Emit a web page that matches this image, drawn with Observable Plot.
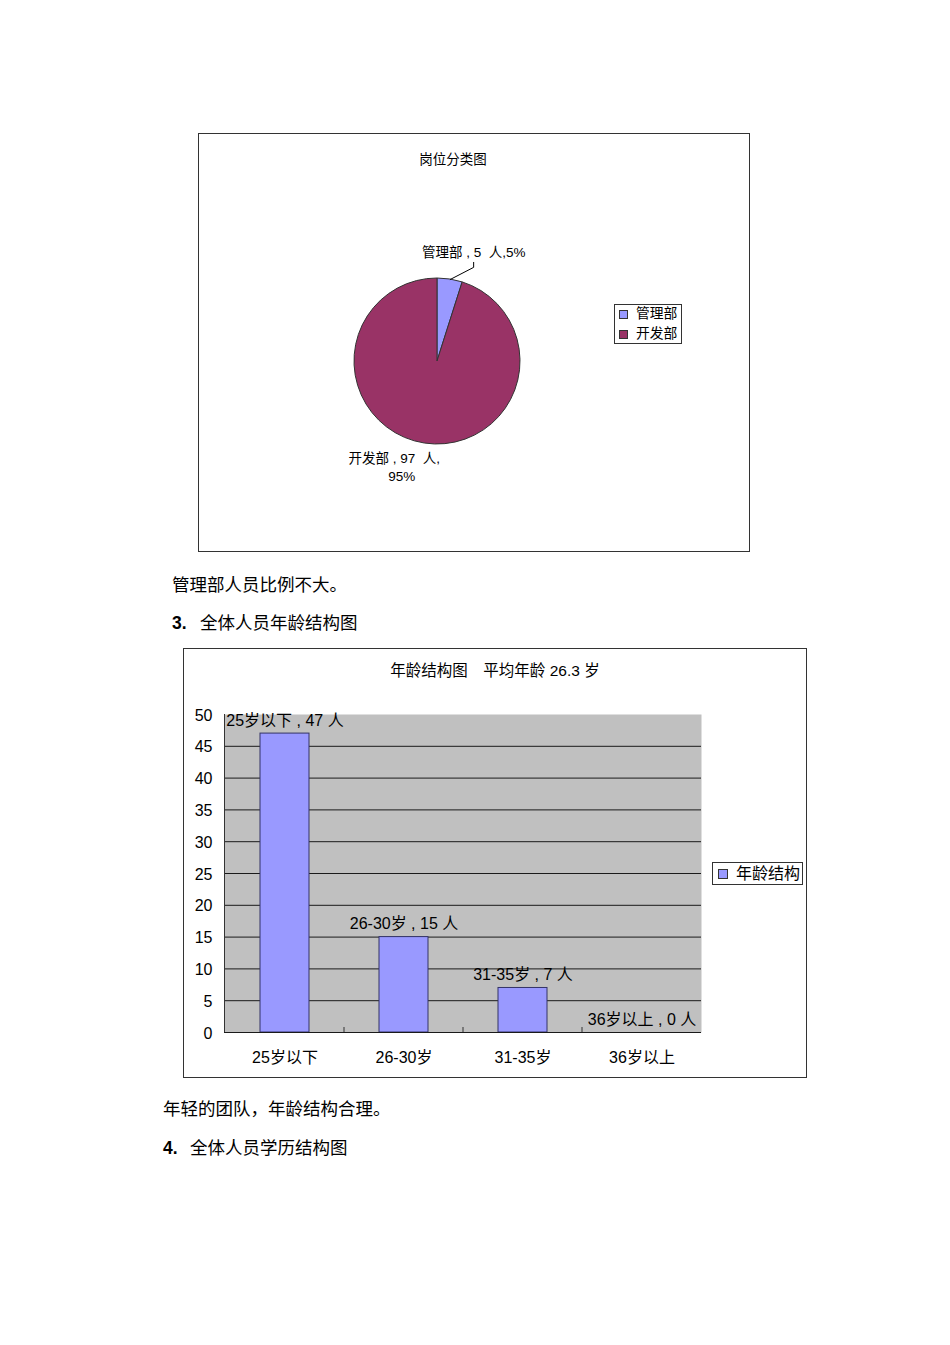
<!DOCTYPE html>
<html>
<head>
<meta charset="utf-8">
<script src="https://cdn.jsdelivr.net/npm/d3@7"></script>
<script src="https://cdn.jsdelivr.net/npm/@observablehq/plot@0.6"></script>
<style>
  html, body { margin: 0; padding: 0; background: #fff; }
  #page { position: relative; width: 950px; height: 1345px; background: #fff; overflow: hidden;
          font-family: "Liberation Sans", "Noto Sans CJK SC", sans-serif; color: #000; }
  .abs { position: absolute; white-space: nowrap; }
  .frame { position: absolute; box-sizing: border-box; border: 1px solid #333; background: #fff; }
  .frame svg { position: absolute; left: 0; top: 0; overflow: visible; }
  .para { font-size: 17.5px; line-height: 20px; }
  .sw { position: absolute; box-sizing: border-box; border: 1px solid #333; }
</style>
</head>
<body>
<div id="page">
  <div class="abs para" style="left:172px; top:575px;">管理部人员比例不大。</div>
  <div class="abs para" style="left:172px; top:613px; font-weight:bold;">3.</div>
  <div class="abs para" style="left:200px; top:613px;">全体人员年龄结构图</div>
  <div class="abs para" style="left:163px; top:1099px;">年轻的团队，年龄结构合理。</div>
  <div class="abs para" style="left:163px; top:1138px; font-weight:bold;">4.</div>
  <div class="abs para" style="left:190px; top:1138px;">全体人员学历结构图</div>
</div>
<script>
// ---------- data ----------
const deptNames = ["管理部", "开发部"];
const deptCounts = [5, 97];
const deptColors = ["#9999FF", "#993366"];
const pieTitle = "岗位分类图";

const ageGroups = ["25岁以下", "26-30岁", "31-35岁", "36岁以上"];
const ageCounts = [47, 15, 7, 0];
const yTicks = [0, 5, 10, 15, 20, 25, 30, 35, 40, 45, 50];
const barTitle = "年龄结构图\u3000平均年龄 26.3 岁";
const barSeriesName = "年龄结构";
const barColor = "#9999FF";

const FONT = '"Liberation Sans", "Noto Sans CJK SC", sans-serif';
const page = document.getElementById("page");

// ---------- pie chart ----------
const total = d3.sum(deptCounts);
const dept = deptNames.map((name, i) => ({
  name, count: deptCounts[i], color: deptColors[i],
  pct: Math.round(deptCounts[i] / total * 100)
}));
const arcs = d3.pie().sort(null).value(d => d.count)(dept);

// label layout (radius in pie-radius units, horizontal offset)
const labelLayout = [{r: 1.34, ox: 0.23}, {r: 1.28, ox: -0.28}];
const pieLabels = arcs.map((a, i) => {
  const m = (a.startAngle + a.endAngle) / 2;
  const d = a.data;
  const text = i === 0
    ? `${d.name} , ${d.count}\u00a0 人,${d.pct}%`
    : `${d.name} , ${d.count}\u00a0 人,\u00a0\u00a0\n\u00a0\u00a0${d.pct}%`;
  return {
    x: labelLayout[i].r * Math.sin(m) + labelLayout[i].ox,
    y: labelLayout[i].r * Math.cos(m),
    text, mid: m
  };
});
const m0 = pieLabels[0];
const leader = [
  {x: Math.sin(m0.mid), y: Math.cos(m0.mid)},
  {x: m0.x, y: m0.y - 0.19},
  {x: m0.x, y: m0.y - 0.13}
];

const pieW = 550, pieH = 417, pcx = 238, pcy = 227, pr = 83;
const pieFrame = document.createElement("div");
pieFrame.className = "frame";
Object.assign(pieFrame.style, {left: "198px", top: "133px", width: (pieW + 2) + "px", height: (pieH + 2) + "px"});
page.appendChild(pieFrame);

const pie = Plot.plot({
  width: pieW, height: pieH,
  margin: 0,
  style: {fontFamily: FONT, background: "transparent", color: "#000"},
  x: {domain: [-pcx / pr, (pieW - pcx) / pr], axis: null},
  y: {domain: [-(pieH - pcy) / pr, pcy / pr], axis: null},
  marks: [
    (index, scales) => {
      const cx = scales.x(0), cy = scales.y(0), r = scales.x(1) - scales.x(0);
      const arc = d3.arc().innerRadius(0).outerRadius(r);
      const g = d3.create("svg:g").attr("transform", `translate(${cx},${cy})`);
      g.selectAll("path").data(arcs).join("path")
        .attr("d", arc)
        .attr("fill", d => d.data.color)
        .attr("stroke", "#333")
        .attr("stroke-width", 1)
        .attr("stroke-linejoin", "round");
      return g.node();
    },
    Plot.line(leader, {x: "x", y: "y", stroke: "#000", strokeWidth: 1}),
    Plot.text(pieLabels, {x: "x", y: "y", text: "text", fontSize: 13.5, lineHeight: 1.35, fill: "#000"})
  ]
});
pieFrame.appendChild(pie);

const pieTitleDiv = document.createElement("div");
pieTitleDiv.className = "abs";
Object.assign(pieTitleDiv.style, {left: "453px", top: "151px", transform: "translateX(-50%)", fontSize: "13.5px", lineHeight: "18px"});
pieTitleDiv.textContent = pieTitle;
page.appendChild(pieTitleDiv);

// pie legend
const pieLeg = document.createElement("div");
pieLeg.className = "abs";
Object.assign(pieLeg.style, {left: "614px", top: "304px", width: "68px", height: "40px", boxSizing: "border-box", border: "1px solid #333", background: "#fff"});
page.appendChild(pieLeg);
dept.forEach((d, i) => {
  const sw = document.createElement("div");
  sw.className = "sw";
  Object.assign(sw.style, {left: "4px", top: (5 + i * 20) + "px", width: "9px", height: "9px", background: d.color});
  pieLeg.appendChild(sw);
  const t = document.createElement("div");
  t.className = "abs";
  Object.assign(t.style, {left: "21px", top: (i * 20) + "px", fontSize: "13.8px", lineHeight: "18px"});
  t.textContent = d.name;
  pieLeg.appendChild(t);
});

// ---------- bar chart ----------
const ages = ageGroups.map((g, i) => ({group: g, count: ageCounts[i]}));
const barW = 622, barH = 428;
const barFrame = document.createElement("div");
barFrame.className = "frame";
Object.assign(barFrame.style, {left: "183px", top: "648px", width: (barW + 2) + "px", height: (barH + 2) + "px"});
page.appendChild(barFrame);

const bar = Plot.plot({
  width: barW, height: barH,
  marginLeft: 40, marginRight: 105, marginTop: 65, marginBottom: 45,
  style: {fontFamily: FONT, background: "transparent", color: "#000"},
  x: {domain: ageGroups, type: "band", paddingInner: 0.59, paddingOuter: 0.295, label: null},
  y: {domain: [0, 50], label: null},
  marks: [
    Plot.frame({fill: "#C0C0C0", stroke: "none"}),
    Plot.ruleY(yTicks.filter(v => v > 0 && v < 50), {stroke: "#1a1a1a", strokeWidth: 1}),
    Plot.barY(ages, {x: "group", y: "count", fill: barColor, stroke: "#333366", strokeWidth: 1}),
    Plot.ruleY([0], {stroke: "#1a1a1a", strokeWidth: 1}),
    (index, scales, values, dim) => {
      const x = scales.x, y = scales.y;
      const g = d3.create("svg:g").attr("stroke", "#333").attr("stroke-width", 1);
      const bw = x.bandwidth(), step = x.step();
      g.append("line")
        .attr("x1", dim.marginLeft + 0.5).attr("x2", dim.marginLeft + 0.5)
        .attr("y1", dim.marginTop).attr("y2", dim.height - dim.marginBottom);
      ageGroups.slice(1).forEach(c => {
        const bx = x(c) + bw / 2 - step / 2;
        g.append("line").attr("x1", bx).attr("x2", bx)
          .attr("y1", y(0)).attr("y2", y(0) - 5);
      });
      return g.node();
    },
    Plot.text(ages, {x: "group", y: "count", text: d => `${d.group} , ${d.count} 人`, dy: -13, fontSize: 16, fill: "#000"}),
    Plot.axisY({ticks: yTicks, tickSize: 0, tickPadding: 12, fontSize: 16, dy: 1, label: null}),
    Plot.axisX({tickSize: 0, tickPadding: 19, fontSize: 16, label: null})
  ]
});
barFrame.appendChild(bar);

const barTitleDiv = document.createElement("div");
barTitleDiv.className = "abs";
Object.assign(barTitleDiv.style, {left: "495px", top: "661px", transform: "translateX(-50%)", fontSize: "15.5px", lineHeight: "20px"});
barTitleDiv.textContent = barTitle;
page.appendChild(barTitleDiv);

const barLeg = document.createElement("div");
barLeg.className = "abs";
Object.assign(barLeg.style, {left: "712px", top: "862px", width: "91px", height: "23px", boxSizing: "border-box", border: "1px solid #333", background: "#fff"});
page.appendChild(barLeg);
const bsw = document.createElement("div");
bsw.className = "sw";
Object.assign(bsw.style, {left: "5px", top: "6px", width: "10px", height: "10px", background: barColor});
barLeg.appendChild(bsw);
const bt = document.createElement("div");
bt.className = "abs";
Object.assign(bt.style, {left: "23px", top: "1px", fontSize: "16px", lineHeight: "20px"});
bt.textContent = barSeriesName;
barLeg.appendChild(bt);
</script>
</body>
</html>
